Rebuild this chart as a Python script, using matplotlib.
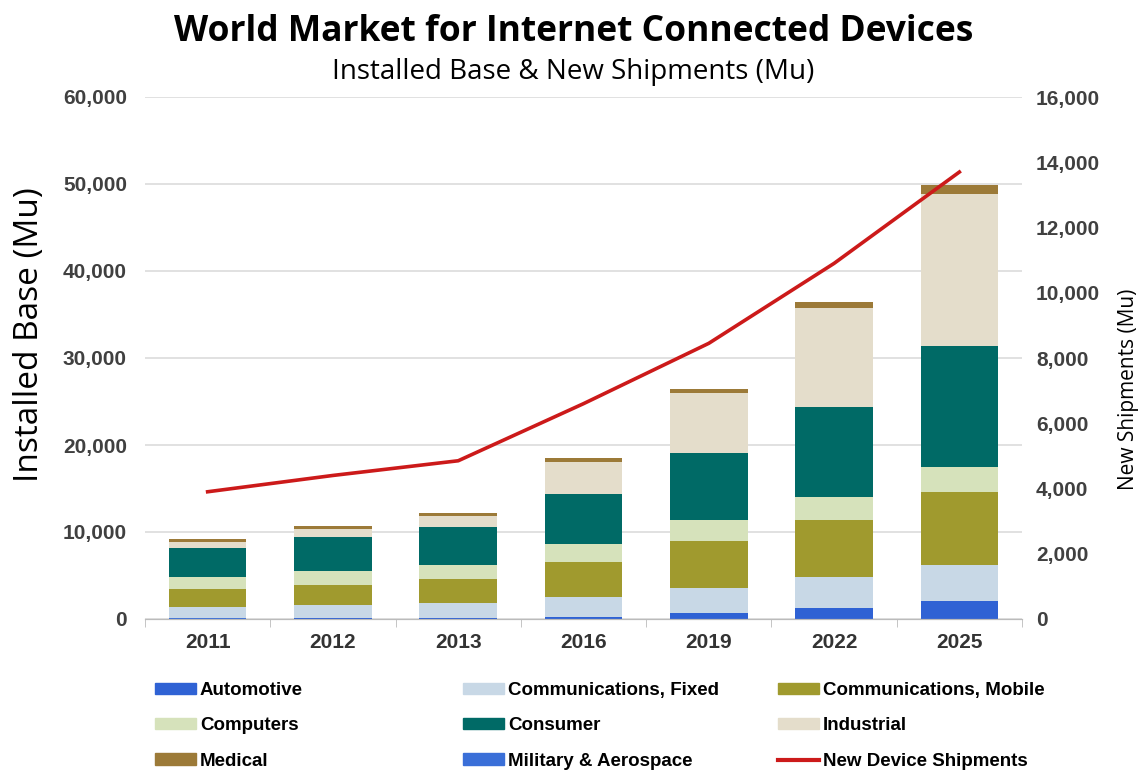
import numpy as np
import matplotlib.pyplot as plt
from matplotlib.patches import Patch
from matplotlib.lines import Line2D

# Data (Mu)
years = ['2011', '2012', '2013', '2016', '2019', '2022', '2025']
automotive = [50, 80, 150, 260, 720, 1230, 2070]
military = [10, 10, 10, 10, 10, 10, 10]
comm_fixed = [1290, 1530, 1650, 2300, 2800, 3620, 4130]
comm_mobile = [2070, 2260, 2760, 3960, 5470, 6520, 8420]
computers = [1380, 1610, 1650, 2070, 2380, 2680, 2880]
consumer = [3340, 3910, 4330, 5780, 7740, 10270, 13870]
industrial = [720, 920, 1300, 3710, 6820, 11380, 17470]
medical = [310, 380, 380, 390, 500, 760, 1040]
new_shipments = [3900, 4400, 4850, 6600, 8450, 10900, 13700]

c_auto = '#2f62d4'
c_mil = '#3a6fd8'
c_fixed = '#c8d8e6'
c_mobile = '#a09a2e'
c_comp = '#d6e2bb'
c_cons = '#006a66'
c_ind = '#e4ddcb'
c_med = '#9c7a38'
c_line = '#cc1a1a'

tick_font = ['Liberation Sans', 'DejaVu Sans']
label_font = ['Open Sans', 'DejaVu Sans']
narrow_font = ['Liberation Sans Narrow', 'Liberation Sans', 'DejaVu Sans']

fig = plt.figure(figsize=(11.47, 7.71), dpi=100)
ax = fig.add_axes([145 / 1147, 152 / 771, 877 / 1147, 522 / 771])
ax2 = ax.twinx()

x = np.arange(len(years))
w = 0.62
series = [
    (automotive, c_auto),
    (military, c_mil),
    (comm_fixed, c_fixed),
    (comm_mobile, c_mobile),
    (computers, c_comp),
    (consumer, c_cons),
    (industrial, c_ind),
    (medical, c_med),
]
bottom = np.zeros(len(years))
for vals, col in series:
    ax.bar(x, vals, w, bottom=bottom, color=col, zorder=2)
    bottom += np.array(vals)

ax2.plot(x, new_shipments, color=c_line, lw=2.6, zorder=5)

# left axis
ax.set_xlim(-0.5, 6.48)
ax.set_ylim(0, 60000)
ax.set_yticks(range(0, 60001, 10000))
ax.set_yticklabels([f'{v:,}' for v in range(0, 60001, 10000)],
                   fontfamily=tick_font, fontweight='bold', fontsize=15, color='#404040')
ax.yaxis.grid(True, color='#dcdcdc', lw=1.2, zorder=0)
ax.set_axisbelow(True)
ax.tick_params(axis='y', length=0, pad=13)
ax.set_ylabel('Installed Base (Mu)', fontfamily=label_font, fontsize=24)
ax.yaxis.set_label_coords(-0.113, 0.545)

ax.set_xticks(x)
ax.set_xticklabels(years, fontfamily=tick_font, fontweight='bold', fontsize=15, color='#333333')
ax.tick_params(axis='x', length=0, pad=10)
ax.set_xticks(np.arange(-0.5, 7, 1), minor=True)
ax.tick_params(axis='x', which='minor', length=6, color='#bbbbbb', direction='out')

# right axis
ax2.set_ylim(0, 16000)
ax2.set_yticks(range(0, 16001, 2000))
ax2.set_yticklabels([f'{v:,}' for v in range(0, 16001, 2000)],
                    fontfamily=tick_font, fontweight='bold', fontsize=15, color='#404040')
ax2.tick_params(axis='y', length=0, pad=10)
ax2.set_ylabel('New Shipments (Mu)', fontfamily=label_font, fontsize=15)
ax2.yaxis.set_label_coords(1.11, 0.44)

for a in (ax, ax2):
    for s in ('top', 'left', 'right'):
        a.spines[s].set_visible(False)
    a.spines['bottom'].set_color('#bbbbbb')

fig.text(0.5, 1 - 32 / 771, 'World Market for Internet Connected Devices',
         ha='center', va='center', fontsize=25.5, fontweight='bold', fontfamily=label_font)
fig.text(0.5, 1 - 72 / 771, 'Installed Base & New Shipments (Mu)',
         ha='center', va='center', fontsize=20, fontfamily=label_font)

# legend, three columns placed separately
col1 = [Patch(color=c_auto, label='Automotive'),
        Patch(color=c_comp, label='Computers'),
        Patch(color=c_med, label='Medical')]
col2 = [Patch(color=c_fixed, label='Communications, Fixed'),
        Patch(color=c_cons, label='Consumer'),
        Patch(color=c_mil, label='Military & Aerospace')]
col3 = [Patch(color=c_mobile, label='Communications, Mobile'),
        Patch(color=c_ind, label='Industrial'),
        Line2D([], [], color=c_line, lw=3, label='New Device Shipments')]
for handles, xl in ((col1, 155), (col2, 463), (col3, 778)):
    fig.legend(handles=handles, loc='upper left',
               bbox_to_anchor=(xl / 1147, 1 - 682 / 771),
               frameon=False, borderaxespad=0, borderpad=0,
               handlelength=2.2, handleheight=0.55, handletextpad=0.2,
               labelspacing=0.98,
               prop={'family': narrow_font, 'weight': 'bold', 'size': 13.5})

fig.savefig('out.png', dpi=100)
